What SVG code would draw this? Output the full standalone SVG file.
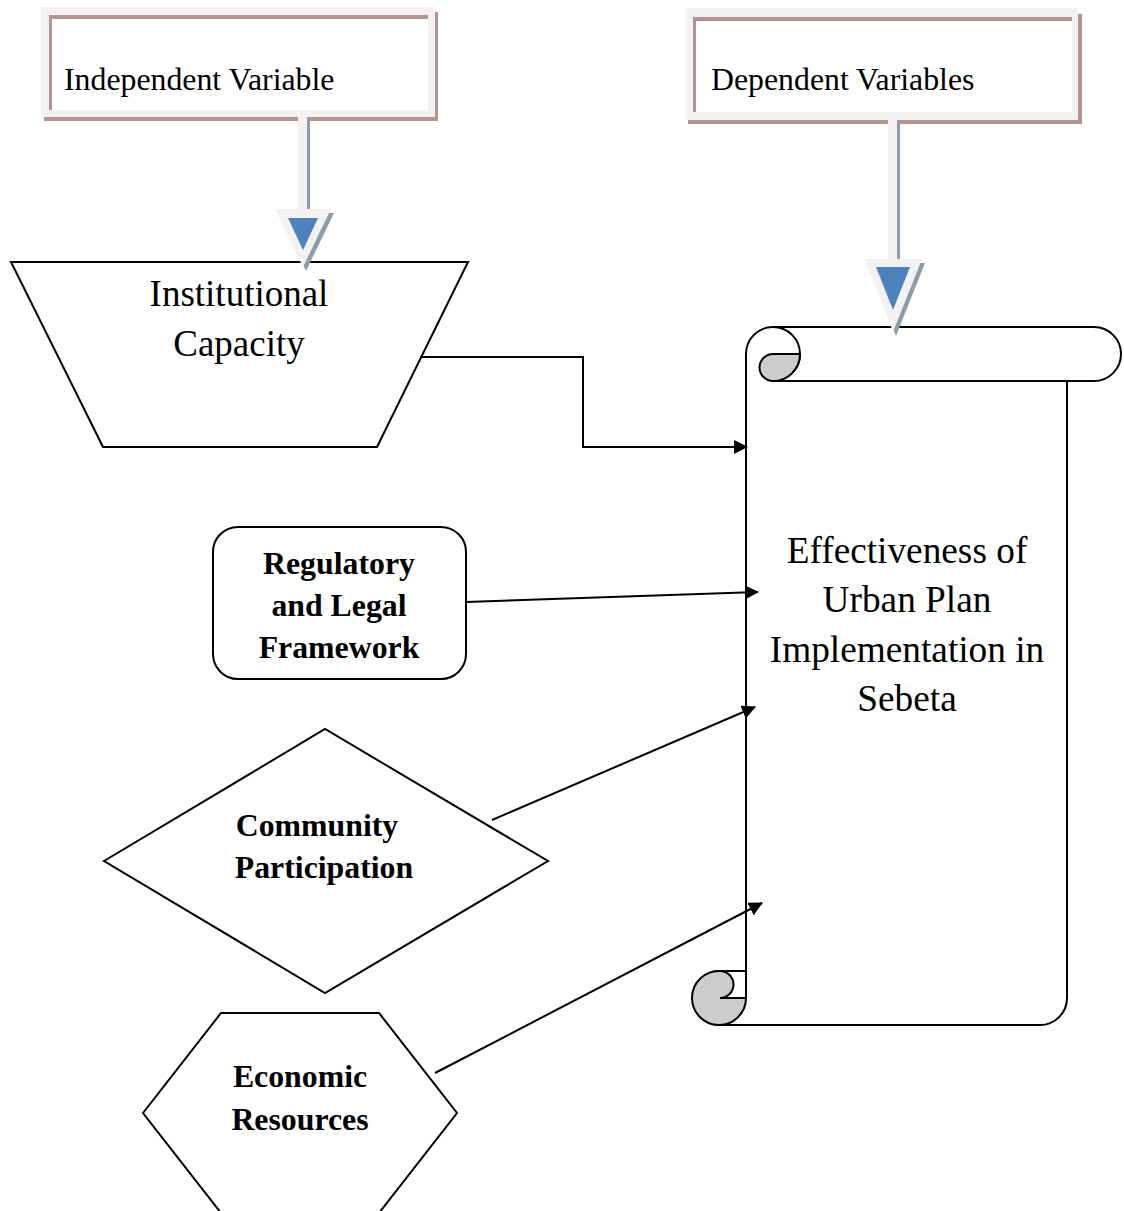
<svg xmlns="http://www.w3.org/2000/svg" width="1124" height="1211" viewBox="0 0 1124 1211">
<style>
.ln{fill:none;stroke:#000;stroke-width:2}
.shp{fill:#fff;stroke:#000;stroke-width:2}
.t{font-family:"Liberation Serif","Times New Roman",serif;fill:#000}
.b{font-weight:bold}
.gray{fill:#f2f2f2}
.brown{fill:#b59393}
.blue{fill:#4f81bd}
.shd{fill:#8f9aab}
</style>
<defs>
<marker id="ah" viewBox="0 0 14 14" refX="13" refY="7" markerWidth="14" markerHeight="14" markerUnits="userSpaceOnUse" orient="auto">
<path d="M0,0 L14,7 L0,14 Z" fill="#000"/>
</marker>
</defs>

<g id="independent-variable">
<rect x="44" y="12" width="394" height="109" class="brown"/>
<rect x="41" y="7" width="394" height="110" class="gray"/>
<rect x="49" y="15" width="379" height="95" fill="#fff"/>
<rect x="49" y="15" width="379" height="4" class="brown"/>
<rect x="49" y="15" width="3" height="95" class="brown"/>
<text class="t" x="64" y="90" font-size="31.8">Independent Variable</text>
</g>

<g id="dependent-variables">
<rect x="688" y="14" width="394" height="110" class="brown"/>
<rect x="685" y="8" width="393" height="112" class="gray"/>
<rect x="693" y="17" width="379" height="95" fill="#fff"/>
<rect x="693" y="17" width="379" height="4" class="brown"/>
<rect x="693" y="17" width="3" height="95" class="brown"/>
<text class="t" x="711" y="90" font-size="31.8">Dependent Variables</text>
</g>

<g id="institutional-capacity">
<polygon points="11,262 468,262 377,447 103,447" class="shp"/>
<text class="t" x="239" y="306" font-size="37" text-anchor="middle">Institutional</text>
<text class="t" x="239" y="356" font-size="37" text-anchor="middle">Capacity</text>
</g>

<g id="effectiveness">
<path class="shp" d="M773,327 L1094,327 A27,27 0 0,1 1094,381 L1067,381 L1067,998 A27,27 0 0,1 1040,1025 L720,1025 A27,27 0 0,1 693,998 A27,27 0 0,1 720,971 L746,971 L746,354 A27,27 0 0,1 773,327 Z"/>
<path class="ln" d="M773,327 A27,27 0 0,1 800,354 A27,27 0 0,1 773,381 L1067,381"/>
<path d="M800,354 L773,354 A13.5,13.5 0 0,0 773,381 A27,27 0 0,0 800,354 Z" fill="#cccccc" stroke="#000" stroke-width="2"/>
<path d="M720,971 A27,27 0 1,0 746,998 L720,998 A13.5,13.5 0 0,0 720,971 Z" fill="#cccccc" stroke="#000" stroke-width="2"/>
<path class="ln" d="M746,971 L746,998"/>
<text class="t" x="907" y="563" font-size="37.3" text-anchor="middle">Effectiveness of</text>
<text class="t" x="907" y="612" font-size="37.3" text-anchor="middle">Urban Plan</text>
<text class="t" x="907" y="662" font-size="37.3" text-anchor="middle">Implementation in</text>
<text class="t" x="907" y="711" font-size="37.3" text-anchor="middle">Sebeta</text>
</g>

<g id="regulatory-legal-framework">
<rect x="213" y="527" width="253" height="152" rx="25" ry="25" class="shp"/>
<text class="t b" x="339" y="574" font-size="31.8" text-anchor="middle">Regulatory</text>
<text class="t b" x="339" y="616" font-size="31.8" text-anchor="middle">and Legal</text>
<text class="t b" x="339" y="658" font-size="31.8" text-anchor="middle">Framework</text>
</g>

<g id="community-participation">
<polygon points="104,861 325,729 548,861 325,993" class="shp"/>
<text class="t b" x="317" y="836" font-size="31.8" text-anchor="middle">Community</text>
<text class="t b" x="324" y="878" font-size="31.8" text-anchor="middle">Participation</text>
</g>

<g id="economic-resources">
<polygon points="143,1113 221,1013 379,1013 457,1113 379,1213 221,1213" class="shp"/>
<text class="t b" x="300" y="1087" font-size="31.8" text-anchor="middle">Economic</text>
<text class="t b" x="300" y="1130" font-size="31.8" text-anchor="middle">Resources</text>
</g>

<g id="connectors">
<polyline class="ln" points="420,357 583,357 583,447 747,447" marker-end="url(#ah)"/>
<line class="ln" x1="466" y1="602" x2="758" y2="592" marker-end="url(#ah)"/>
<line class="ln" x1="492" y1="820" x2="755" y2="707" marker-end="url(#ah)"/>
<line class="ln" x1="435" y1="1073" x2="762" y2="903" marker-end="url(#ah)"/>
<g id="arrow-independent">
<polygon class="shd" points="301,121 310,121 310,213 334,213 306,271 278,213 301,213"/>
<polygon class="gray" points="298,117 307,117 307,209 331,209 303,267 275,209 298,209"/>
<polygon class="blue" points="288,218 318,218 303,250"/>
</g>
<g id="arrow-dependent">
<polygon class="shd" points="891,124 900,124 900,263 925,263 896,336 868,263 891,263"/>
<polygon class="gray" points="888,120 897,120 897,259 922,259 893,332 865,259 888,259"/>
<polygon class="blue" points="876,267 910,267 893,310"/>
</g>
</g>
</svg>
